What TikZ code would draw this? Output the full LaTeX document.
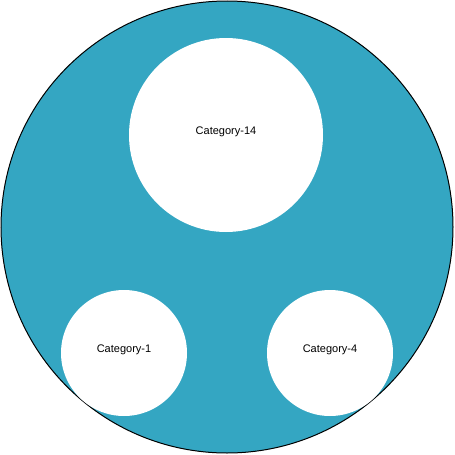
\documentclass[tikz,border=0pt]{standalone}
\usepackage{fontspec}
\setmainfont{Liberation Sans}
\usepackage{tikz}
\usetikzlibrary{positioning}
\definecolor{catteal}{RGB}{52,166,194}

\begin{document}
\begin{tikzpicture}[
      x=1pt, y=-1pt,
      outer/.style={circle, draw=black, line width=1pt, fill=catteal, minimum size=452pt, inner sep=0pt},
      category/.style={circle, fill=white, inner sep=0pt, text depth=8pt, align=center, font=\fontsize{11}{13}\selectfont}
    ]
    \useasboundingbox (0,0) rectangle (455,455);
    \node[outer] (all) at (227,227) {};
    \node[category, minimum size=194pt] (cat14) at (226,135) {Category-14};
    \node[category, minimum size=126pt] (cat1) at (124,353) {Category-1};
    \node[category, minimum size=126pt] (cat4) at (330,353) {Category-4};
  \end{tikzpicture}
\end{document}
